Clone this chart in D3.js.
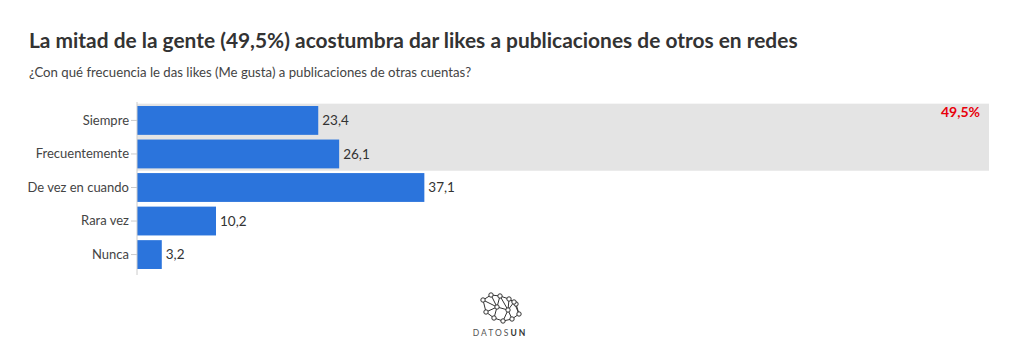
<!DOCTYPE html>
<html>
<head>
<meta charset="utf-8">
<script src="https://cdn.jsdelivr.net/npm/d3@7"></script>
<style>
  body { margin: 0; background: #fff; }
  svg { font-family: Lato, "Noto Sans", sans-serif; }
</style>
</head>
<body>
<div id="chart"></div>
<script>
const categories = ["Siempre", "Frecuentemente", "De vez en cuando", "Rara vez", "Nunca"];
const values = [23.4, 26.1, 37.1, 10.2, 3.2];
const highlighted = ["Siempre", "Frecuentemente"];
const highlightLabel = "49,5%";
const titleText = "La mitad de la gente (49,5%) acostumbra dar likes a publicaciones de otros en redes";
const subtitleText = "¿Con qué frecuencia le das likes (Me gusta) a publicaciones de otras cuentas?";

const width = 1020, height = 354;
const margin = { top: 104, right: 31, bottom: 80, left: 137 };

const svg = d3.select("#chart").append("svg")
    .attr("width", width)
    .attr("height", height);

svg.append("text")
    .attr("x", 29).attr("y", 48)
    .attr("font-size", 20.9).attr("font-weight", "bold")
    .attr("fill", "#333")
    .text(titleText);

svg.append("text")
    .attr("x", 29).attr("y", 77)
    .attr("font-size", 13.2).attr("fill", "#444")
    .text(subtitleText);

const x = d3.scaleLinear()
    .domain([0, 110])
    .range([margin.left, width - margin.right]);

const y = d3.scaleBand()
    .domain(categories)
    .range([margin.top, 271])
    .paddingInner(0.14)
    .paddingOuter(0.06);

// gray highlight band
const hiTop = y(highlighted[0]) - y.step() * y.paddingInner() / 2;
const hiBottom = y(highlighted[highlighted.length - 1]) + y.bandwidth() + y.step() * y.paddingInner() / 2;
svg.append("rect")
    .attr("x", x(0))
    .attr("y", hiTop)
    .attr("width", x(110) - x(0))
    .attr("height", hiBottom - hiTop)
    .attr("fill", "#e4e4e4");

svg.append("text")
    .attr("x", x(110) - 9)
    .attr("y", y(highlighted[0]) + y.bandwidth() / 2 - 3)
    .attr("text-anchor", "end")
    .attr("font-size", 14).attr("font-weight", "bold")
    .attr("fill", "#e8000b")
    .text(highlightLabel);

svg.selectAll(".bar")
    .data(categories)
    .enter()
    .append("rect")
    .attr("class", "bar")
    .attr("x", x(0))
    .attr("y", d => y(d))
    .attr("width", (d, i) => x(values[i]) - x(0))
    .attr("height", y.bandwidth())
    .attr("fill", "#2b74dc");

svg.selectAll(".val")
    .data(categories)
    .enter()
    .append("text")
    .attr("class", "val")
    .attr("x", (d, i) => x(values[i]) + 4)
    .attr("y", d => y(d) + y.bandwidth() / 2)
    .attr("dy", "0.35em")
    .attr("font-size", 13.5)
    .attr("fill", "#333")
    .text((d, i) => String(values[i]).replace(".", ","));

const yAxis = svg.append("g")
    .attr("transform", `translate(${x(0)},0)`)
    .call(d3.axisLeft(y).tickSize(6).tickPadding(2).tickSizeOuter(0));
yAxis.select(".domain").attr("stroke", "#ccc").attr("d", `M0,${margin.top - 2}V275`);
yAxis.selectAll(".tick line").attr("stroke", "#ccc");
yAxis.selectAll(".tick text")
    .attr("font-size", 13)
    .attr("font-family", "Lato, \"Noto Sans\", sans-serif")
    .attr("fill", "#444");

// logo
const logo = svg.append("g").attr("transform", "translate(500,308)");
const nodes = [[-17,-8],[-9,-13],[0,-12],[9,-9],[16,-4],[19,6],[12,11],[3,13],[-6,10],[-14,4],[-3,-1],[8,2],[14,-6]];
const links = [[0,1],[1,2],[2,3],[3,4],[4,5],[5,6],[6,7],[7,8],[8,9],[9,0],[0,10],[1,10],[2,10],[10,8],[10,11],[11,3],[11,6],[11,7],[3,12],[12,5],[12,11],[9,10],[2,11]];
logo.selectAll("line").data(links).enter().append("line")
    .attr("x1", d => nodes[d[0]][0]).attr("y1", d => nodes[d[0]][1])
    .attr("x2", d => nodes[d[1]][0]).attr("y2", d => nodes[d[1]][1])
    .attr("stroke", "#333").attr("stroke-width", 1);
logo.selectAll("circle").data(nodes).enter().append("circle")
    .attr("cx", d => d[0]).attr("cy", d => d[1]).attr("r", 2.2)
    .attr("fill", "#fff").attr("stroke", "#333").attr("stroke-width", 1);
const brand = svg.append("text")
    .attr("x", 500).attr("y", 336)
    .attr("text-anchor", "middle")
    .attr("font-size", 8.5).attr("letter-spacing", 2)
    .attr("fill", "#555");
brand.append("tspan").text("DATOS");
brand.append("tspan").attr("font-weight", "bold").attr("fill", "#333").text("UN");
</script>
</body>
</html>
